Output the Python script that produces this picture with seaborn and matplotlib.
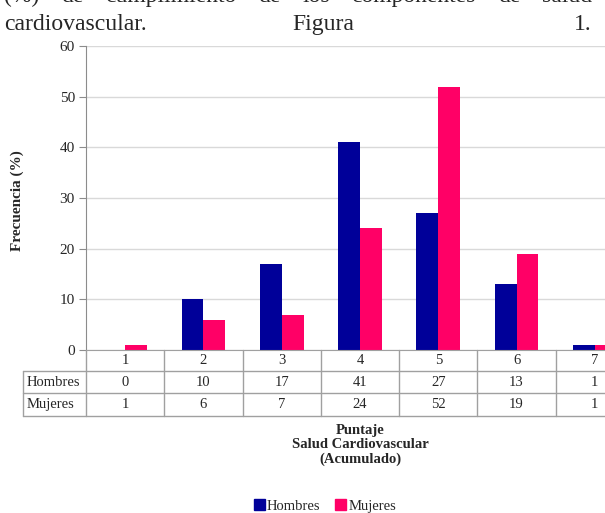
import pandas as pd
import seaborn as sns
import matplotlib.pyplot as plt
from matplotlib.lines import Line2D
from matplotlib.patches import Rectangle

puntaje = ['1', '2', '3', '4', '5', '6', '7']
hombres = [0, 10, 17, 41, 27, 13, 1]
mujeres = [1, 6, 7, 24, 52, 19, 1]
series = ['Hombres', 'Mujeres']
colores = ['#000099', '#FF0066']
yticks = [0, 10, 20, 30, 40, 50, 60]

linea1 = ['(%)', 'de', 'cumplimiento', 'de', 'los', 'componentes', 'de', 'salud']

df = pd.DataFrame({
    'Puntaje': puntaje * 2,
    'Frecuencia': hombres + mujeres,
    'Sexo': ['Hombres'] * 7 + ['Mujeres'] * 7,
})

sns.set_style('white')
plt.rcParams['font.family'] = ['Liberation Serif', 'DejaVu Serif']

W, H = 605, 513
fig = plt.figure(figsize=(W / 100, H / 100), dpi=100)

def fx(px):
    return px / W

def fy(py):
    return 1 - py / H

# plot area: x 86..634 px, y 46..350 px
ax = fig.add_axes([fx(86), fy(350), (634 - 86) / W, (350 - 46) / H])
sns.barplot(data=df, x='Puntaje', y='Frecuencia', hue='Sexo', order=puntaje,
            hue_order=series, palette=colores, width=0.56, linewidth=0,
            saturation=1, legend=False, ax=ax)

ax.set_xlim(-0.5, len(puntaje) - 0.5)
ax.set_ylim(0, 60)
ax.set_yticks(yticks)
ax.yaxis.grid(True, color='#d9d9d9', lw=1)
ax.set_axisbelow(True)
for s in ['top', 'right']:
    ax.spines[s].set_visible(False)
ax.spines['left'].set_color('#8c8c8c')
ax.spines['bottom'].set_color('#a0a0a0')
ax.tick_params(axis='y', direction='out', length=5, color='#8c8c8c',
               labelsize=11, pad=3, left=True)
ax.tick_params(axis='x', length=0, labelbottom=False)
ax.set_xlabel('')
ax.set_ylabel('')

# table below the axis
gris = '#a0a0a0'
xt = ax.get_xaxis_transform()
def ay(py):
    return (350 - py) / 304

for i in range(len(puntaje)):
    ax.text(i, ay(361), puntaje[i], transform=xt, ha='center', va='center', fontsize=10.5)
    ax.text(i, ay(382.5), str(hombres[i]), transform=xt, ha='center', va='center', fontsize=10.5)
    ax.text(i, ay(404.5), str(mujeres[i]), transform=xt, ha='center', va='center', fontsize=10.5)
for b in range(len(puntaje)):
    ax.add_line(Line2D([b - 0.5, b - 0.5], [0, ay(416)], transform=xt, color=gris,
                       lw=1, clip_on=False))
for py in [371, 393, 416]:
    fig.add_artist(Line2D([fx(23), fx(640)], [fy(py), fy(py)], color=gris, lw=1))
fig.add_artist(Line2D([fx(23), fx(23)], [fy(371), fy(416)], color=gris, lw=1))
fig.text(fx(27), fy(382.5), 'Hombres', ha='left', va='center', fontsize=10.5)
fig.text(fx(27), fy(404.5), 'Mujeres', ha='left', va='center', fontsize=10.5)

# axis titles
fig.text(fx(17), fy(201), 'Frecuencia (%)', rotation=90, ha='center', va='center',
         fontsize=11, fontweight='bold')
fig.text(fx(360), fy(445), 'Puntaje\nSalud Cardiovascular\n(Acumulado)', ha='center',
         va='center', fontsize=10.5, fontweight='bold', linespacing=1.15)

# legend
handles = [Rectangle((0, 0), 1, 1, color=c) for c in colores]
fig.legend(handles, series, loc='center', bbox_to_anchor=(fx(325), fy(506)), ncol=2,
           frameon=False, fontsize=10.5, handlelength=0.75, handleheight=0.75,
           handletextpad=0.15, columnspacing=1.0, borderpad=0)

# header text (justified paragraph, cut at top)
fs = 17
margen_der = 592
fig.canvas.draw()
r = fig.canvas.get_renderer()
palabras = [fig.text(0, fy(2), w, ha='left', va='baseline', fontsize=fs) for w in linea1]
anchos = [t.get_window_extent(r).width for t in palabras]
hueco = (margen_der - 4 - sum(anchos)) / (len(palabras) - 1)
x = 4
for t, a in zip(palabras, anchos):
    t.set_x(fx(x))
    x += a + hueco
fig.text(fx(4), fy(30), 'cardiovascular.', ha='left', va='baseline', fontsize=fs)
fig.text(fx(292), fy(30), 'Figura', ha='left', va='baseline', fontsize=fs)
fig.text(fx(margen_der), fy(30), '1.', ha='right', va='baseline', fontsize=fs)

fig.savefig('out.png', dpi=100)
